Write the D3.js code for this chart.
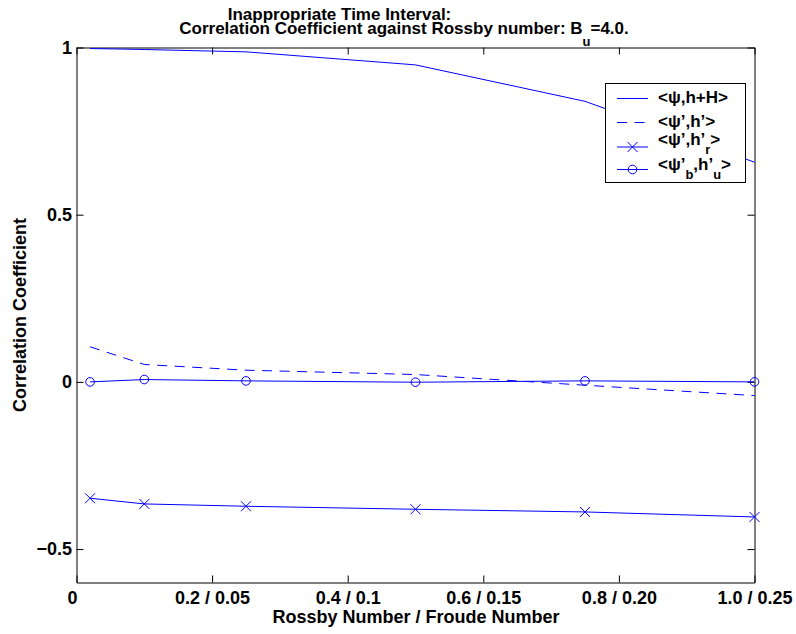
<!DOCTYPE html>
<html>
<head>
<meta charset="utf-8">
<script src="https://cdn.jsdelivr.net/npm/d3@7"></script>
<style>
  html, body { margin: 0; padding: 0; background: #fff; }
  svg { display: block; }
  text { font-family: "Liberation Sans", Arial, Helvetica, sans-serif; font-weight: bold; fill: #000; }
</style>
</head>
<body>
<svg id="chart" width="796" height="634"></svg>
<script>
// Rossby number of each run (Froude number is a quarter of it)
const rossby = [0.02, 0.1, 0.25, 0.5, 0.75, 1.0];

// Correlation coefficients for each pairing
const corrTotal   = [0.997, 0.994, 0.987, 0.948, 0.839, 0.657];   // <psi, h+H>
const corrPrime   = [0.105, 0.052, 0.035, 0.022, -0.010, -0.041]; // <psi', h'>
const corrRes     = [-0.348, -0.365, -0.372, -0.381, -0.389, -0.404]; // <psi', h'_r>
const corrBal     = [0.000, 0.007, 0.003, -0.001, 0.003, 0.000];  // <psi'_b, h'_u>

// Axis ticks and labels
const xTicks = [0, 0.2, 0.4, 0.6, 0.8, 1.0];
const xTickLabels = ["0", "0.2 / 0.05", "0.4 / 0.1", "0.6 / 0.15", "0.8 / 0.20", "1.0 / 0.25"];
const yTicks = [-0.5, 0, 0.5, 1];
const yTickLabels = ["\u22120.5", "0", "0.5", "1"];

const svg = d3.select("#chart");
const padL = 76.5, padR = 754.5, padT = 47.5, padB = 582.5;
const x = d3.scaleLinear().domain([0, 1]).range([padL, padR]);
const y = d3.scaleLinear().domain([-0.6, 1]).range([padB, padT]);
const blue = "#0000ff";

// Axes with inward ticks on all four sides
const fmtX = d => xTickLabels[xTicks.indexOf(d)];
const fmtY = d => yTickLabels[yTicks.indexOf(d)];

const gB = svg.append("g").attr("transform", `translate(0,${padB})`)
  .call(d3.axisBottom(x).tickValues(xTicks).tickFormat(fmtX).tickSizeInner(-7).tickSizeOuter(0).tickPadding(8.5));
const gT = svg.append("g").attr("transform", `translate(0,${padT})`)
  .call(d3.axisTop(x).tickValues(xTicks).tickFormat("").tickSizeInner(-7).tickSizeOuter(0));
const gL = svg.append("g").attr("transform", `translate(${padL},0)`)
  .call(d3.axisLeft(y).tickValues(yTicks).tickFormat(fmtY).tickSizeInner(-7).tickSizeOuter(0).tickPadding(4.5));
const gR = svg.append("g").attr("transform", `translate(${padR},0)`)
  .call(d3.axisRight(y).tickValues(yTicks).tickFormat("").tickSizeInner(-7).tickSizeOuter(0));

[gB, gT, gL, gR].forEach(g => {
  g.selectAll("path.domain").attr("stroke", "#000").attr("stroke-width", 1);
  g.selectAll(".tick line").attr("stroke", "#000").attr("stroke-width", 1);
  g.selectAll(".tick text").attr("font-size", 18).attr("font-family", null).attr("fill", "#000");
});
// the "0" label at the origin sits just left of its tick
gB.selectAll(".tick text").filter(d => d === 0).attr("text-anchor", "end").attr("dx", 0.5);

// Series
const line = d3.line().x(d => x(d[0])).y(d => y(d[1]));
const pts = vals => rossby.map((r, i) => [r, vals[i]]);

const plot = svg.append("g");
plot.append("path").attr("d", line(pts(corrTotal))).attr("fill", "none").attr("stroke", blue).attr("stroke-width", 1);
plot.append("path").attr("d", line(pts(corrPrime))).attr("fill", "none").attr("stroke", blue).attr("stroke-width", 1)
  .attr("stroke-dasharray", "10,7.5");
plot.append("path").attr("d", line(pts(corrRes))).attr("fill", "none").attr("stroke", blue).attr("stroke-width", 1);
plot.append("path").attr("d", line(pts(corrBal))).attr("fill", "none").attr("stroke", blue).attr("stroke-width", 1);

function crossMark(g, cx, cy, s) {
  g.append("path").attr("d", `M${cx - s},${cy - s}L${cx + s},${cy + s}M${cx - s},${cy + s}L${cx + s},${cy - s}`)
    .attr("stroke", blue).attr("stroke-width", 1).attr("fill", "none");
}
function circleMark(g, cx, cy, r) {
  g.append("circle").attr("cx", cx).attr("cy", cy).attr("r", r)
    .attr("stroke", blue).attr("stroke-width", 1).attr("fill", "none");
}
pts(corrRes).forEach(d => crossMark(plot, x(d[0]), y(d[1]), 5));
pts(corrBal).forEach(d => circleMark(plot, x(d[0]), y(d[1]), 4.3));

// Legend
const lg = svg.append("g");
lg.append("rect").attr("x", 605.5).attr("y", 83.5).attr("width", 140).attr("height", 99)
  .attr("fill", "#fff").attr("stroke", "#000").attr("stroke-width", 1);
const lx0 = 617, lx1 = 648, ltx = 658;
const rows = [98.5, 122.5, 147, 169.5];
lg.append("line").attr("x1", lx0).attr("x2", lx1).attr("y1", rows[0]).attr("y2", rows[0]).attr("stroke", blue);
lg.append("line").attr("x1", lx0).attr("x2", lx1).attr("y1", rows[1]).attr("y2", rows[1]).attr("stroke", blue)
  .attr("stroke-dasharray", "10,7.5");
lg.append("line").attr("x1", lx0).attr("x2", lx1).attr("y1", rows[2]).attr("y2", rows[2]).attr("stroke", blue);
crossMark(lg, (lx0 + lx1) / 2, rows[2], 5);
lg.append("line").attr("x1", lx0).attr("x2", lx1).attr("y1", rows[3]).attr("y2", rows[3]).attr("stroke", blue);
circleMark(lg, (lx0 + lx1) / 2, rows[3], 4.3);

function richText(g, tx, ty, parts, size, anchor) {
  const t = g.append("text").attr("x", tx).attr("y", ty).attr("font-size", size)
    .attr("text-anchor", anchor || "start");
  let shift = 0;
  parts.forEach(p => {
    const want = p.sub ? p.sub : 0;
    const s = t.append("tspan").text(p.t);
    if (want !== shift) { s.attr("dy", want - shift); shift = want; }
    if (p.sub) s.attr("font-size", size * 0.76);
  });
  return t;
}
richText(lg, ltx, 102.5, [{t: "<\u03c8,h+H>"}], 17);
richText(lg, ltx, 126.5, [{t: "<\u03c8\u2019,h\u2019>"}], 17);
richText(lg, ltx, 144.5, [{t: "<\u03c8\u2019,h\u2019"}, {t: "r", sub: 9}, {t: ">"}], 17);
richText(lg, ltx, 169.5, [{t: "<\u03c8\u2019"}, {t: "b", sub: 9.5}, {t: ",h\u2019"}, {t: "u", sub: 9.5}, {t: ">"}], 17);

// Titles and axis labels
svg.append("text").attr("x", 339.5).attr("y", 19.5).attr("text-anchor", "middle").attr("font-size", 17)
  .text("Inappropriate Time Interval:");
richText(svg, 404, 33.5, [{t: "Correlation Coefficient against Rossby number: B"}, {t: "u", sub: 12.5}, {t: "=4.0."}], 17, "middle");

svg.append("text").attr("x", 416).attr("y", 623).attr("text-anchor", "middle").attr("font-size", 18)
  .text("Rossby Number / Froude Number");
svg.append("text").attr("transform", "translate(26,315) rotate(-90)").attr("text-anchor", "middle").attr("font-size", 18)
  .text("Correlation Coefficient");
</script>
</body>
</html>
